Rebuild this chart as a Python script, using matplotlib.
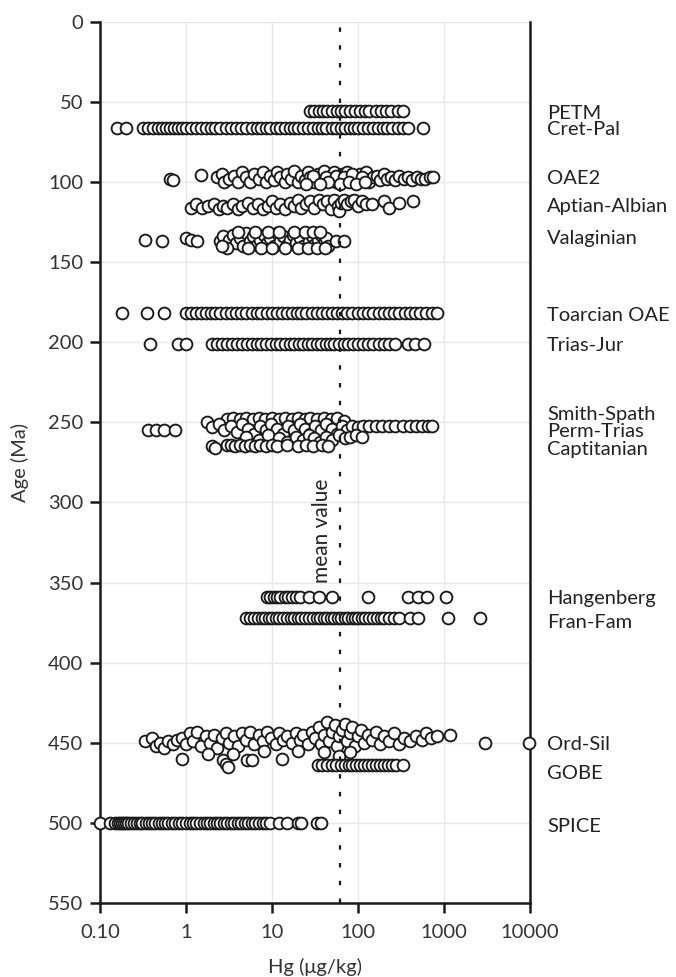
import matplotlib
matplotlib.use("Agg")
import matplotlib.pyplot as plt
import matplotlib.transforms as mtransforms

plt.rcParams['font.family'] = ['Lato', 'DejaVu Sans']

# ======= DATA (Hg in ug/kg, age in Ma) ===========
petm_age = 55.5
petm_hg = [28, 31, 35, 39, 44, 50, 57, 63, 70, 80, 92, 105, 120, 135, 160, 185, 210, 240, 290, 330]

cretpal_age = 66
cretpal_hg = [0.158, 0.2, 0.32, 0.36, 0.41, 0.47, 0.52, 0.58, 0.65, 0.72, 0.8, 0.9, 1.0, 1.15, 1.3,
              1.5, 1.7, 1.95, 2.2, 2.5, 2.9, 3.3, 3.8, 4.4, 5.0, 5.8, 6.6, 7.5, 8.5, 9.6, 11, 12.5,
              14, 16, 18, 20, 23, 26, 30, 34, 38, 43, 50, 56, 63, 70, 80, 90, 100, 115, 130, 150,
              170, 195, 220, 250, 290, 330, 380, 570]

oae2_hg = [0.65, 0.7, 1.5, 2.3, 2.6, 2.8, 3.2, 3.6, 4.0, 4.5, 5.0, 5.5, 6.2, 7.0, 7.8, 8.5, 9.5,
           10.5, 11.5, 12.5, 14, 15, 16.5, 18, 20, 22, 24, 26, 28, 31, 34, 37, 40, 44, 48, 52, 56,
           60, 65, 70, 75, 82, 90, 98, 105, 115, 125, 135, 150, 165, 180, 200, 220, 240, 270, 300,
           340, 380, 430, 480, 540, 600, 680, 740, 30, 42, 55, 68, 85, 110, 45, 62, 78, 95, 120,
           25, 36]
oae2_age = [98, 99, 95.5, 97, 95, 100, 98, 96, 100, 94, 97, 100, 95, 98, 94, 100, 96,
            99, 94, 97, 100, 95, 98, 93, 100, 96, 99, 94, 97, 100, 95, 98, 93, 99, 96, 94, 100,
            97, 95, 99, 94, 98, 96, 100, 95, 98, 94, 100, 97, 96, 99, 95, 98, 97, 99, 96,
            98, 97, 99, 97, 98, 98, 97, 97, 96, 97, 96, 97, 95, 97, 100, 101, 100, 101, 100,
            101, 101]

aptalb_hg = [1.15, 1.3, 1.55, 1.8, 2.1, 2.4, 2.7, 3.0, 3.5, 4.0, 4.5, 5.2, 6.0, 6.8, 7.8, 9.0,
             10, 11, 12.5, 14, 16, 18, 20, 22, 25, 28, 31, 35, 39, 44, 48, 53, 58, 60, 63, 68,
             75, 82, 90, 100, 110, 125, 145, 200, 230, 300, 440]
aptalb_age = [116, 114, 116, 115, 114, 117, 115, 116, 114, 117, 115, 113, 116, 114, 117, 115,
              112, 116, 114, 117, 113, 115, 111, 116, 114, 112, 116, 111, 114, 112, 117, 111, 115,
              118, 113, 111, 114, 112, 111, 115, 112, 114, 114, 112, 116, 113, 112]

valang_hg = [0.33, 0.53, 1.0, 1.15, 1.35, 2.5, 2.7, 2.9, 3.2, 3.5, 3.8, 4.2, 4.6, 5.0, 5.5, 6.0,
             6.6, 7.2, 8.0, 8.8, 9.6, 10.5, 11.5, 12.5, 13.5, 15, 16, 17.5, 19, 21, 23, 25, 27,
             29, 31, 34, 37, 40, 43, 45, 3.0, 5.2, 7.5, 10, 14, 20, 26, 33, 41, 2.6, 4.0, 6.3,
             9.0, 12, 18, 24, 30, 36, 55, 68]
valang_age = [136, 137, 135, 136, 137, 137, 134, 139, 136, 133, 138, 135, 140, 132, 137, 134,
              139, 136, 133, 138, 135, 140, 132, 137, 134, 139, 136, 133, 138, 135, 140, 132, 137,
              134, 139, 136, 133, 138, 135, 140, 141, 141, 141, 141, 141, 141, 141, 141, 141, 140,
              131, 131, 131, 131, 131, 131, 131, 131, 137, 137]

toarc_age = 182
toarc_hg = [0.18, 0.35, 0.55, 1.0, 1.15, 1.3, 1.5, 1.7, 1.95, 2.2, 2.5, 2.9, 3.3, 3.8, 4.4, 5.0,
            5.8, 6.6, 7.5, 8.7, 10, 11.5, 13, 15, 17, 19.5, 22, 25, 29, 33, 38, 44, 50, 57, 65,
            75, 86, 100, 115, 130, 150, 175, 200, 230, 260, 300, 350, 400, 460, 530, 620, 720, 820]

triasjur_age = 201
triasjur_hg = [0.38, 0.8, 1.0, 2.0, 2.3, 2.6, 3.0, 3.4, 3.9, 4.5, 5.1, 5.8, 6.6, 7.5, 8.6, 9.8,
               11, 12.5, 14, 16, 18, 20.5, 23, 26, 29, 33, 37, 42, 47, 53, 60, 68, 77, 87, 100,
               115, 130, 150, 175, 200, 230, 270, 380, 460, 580]

# Smith-Spath / Perm-Trias / Captitanian cluster
perm_hg = [0.36, 0.45, 0.55, 0.75,
           3.0, 3.5, 4.2, 5.0, 6.0, 7.0, 8.3, 10, 12, 14, 17, 20, 24, 28, 33, 40, 48, 57, 68,
           1.75, 2.0, 2.4, 2.8, 3.3, 3.9, 4.5, 5.3, 6.2, 7.2, 8.4, 9.8, 11.5, 13.5, 15.5, 18, 21,
           24, 28, 32, 37, 43, 50, 57, 65, 75, 85, 100, 115, 135, 160, 190, 230, 270, 330, 400,
           470, 560, 650, 720,
           5, 7, 9, 12, 15, 19, 23, 27, 31, 36, 42, 50, 60, 70, 80, 95, 110,
           2.0, 2.2, 3.0, 3.3, 3.7, 4.2, 4.8, 5.5, 6.3, 7.3, 8.5, 10, 11.5, 15, 20, 25, 30, 38, 45]
perm_age = [255, 255, 255, 255,
            248, 247, 248, 247, 248, 247, 248, 247, 248, 247, 248, 247, 248, 247, 248, 247, 248,
            247, 249,
            250, 253, 251, 255, 252, 256, 251, 254, 257, 252, 255, 251, 254, 257, 252, 255, 251,
            254, 257, 252, 255, 251, 254, 257, 252, 255, 252, 253, 252, 252, 252, 252, 252, 252,
            252, 252, 252, 252, 252, 252,
            259, 261, 258, 260, 262, 259, 261, 258, 260, 262, 259, 261, 258, 260, 259, 258, 259,
            265, 266, 264, 264, 265, 264, 265, 264, 265, 264, 265, 264, 265, 264, 265, 264, 265,
            264, 265]

hangen_age = 359
hangen_hg = [8.7, 9.5, 10.5, 11.5, 12.5, 14, 15.5, 17, 19, 21, 27, 35, 50, 130, 380, 500, 640, 1050]

franfam_age = 372
franfam_hg = [5.0, 5.6, 6.2, 6.9, 7.6, 8.3, 9.2, 10, 11, 12, 13.5, 15, 16.5, 18, 20, 22, 24.5, 27,
              30, 33, 36, 40, 44, 48, 53, 58, 64, 70, 77, 85, 93, 100, 110, 120, 135, 150, 165, 185,
              200, 230, 260, 300, 400, 500, 1100, 2630]

ordsil_hg = [0.33, 0.4, 0.45, 0.5, 0.55, 0.62, 0.7, 0.78, 0.9, 1.0, 1.1, 1.2, 1.35, 1.5, 1.7, 1.9,
             2.1, 2.3, 2.6, 2.9, 3.2, 3.6, 4.0, 4.5, 5.0, 5.6, 6.2, 7.0, 7.8, 8.7, 9.7, 11, 12,
             13.5, 15, 17, 19, 21, 23, 26, 29, 32, 35, 37, 40, 44, 46, 50, 54, 57, 60, 65, 70, 75,
             80, 86, 92, 100, 108, 118, 130, 145, 160, 180, 200, 230, 260, 300, 340, 400, 470, 550,
             620, 700, 820, 1170, 3000, 9800,
             0.9, 2.7, 2.9, 3.1, 5.1, 5.9, 13, 1.8, 3.5, 8, 20, 40, 60, 80]
ordsil_age = [449, 447, 452, 450, 453, 449, 451, 448, 447, 451, 444, 449, 443, 452, 446, 450,
              445, 453, 447, 444, 450, 446, 452, 444, 448, 443, 451, 445, 449, 443, 447, 451, 444,
              448, 446, 450, 444, 448, 445, 451, 443, 447, 440, 451, 445, 437, 449, 443, 439, 452,
              446, 442, 438, 449, 444, 440, 452, 446, 442, 450, 445, 448, 443, 451, 446, 449, 444,
              451, 447, 449, 446, 448, 444, 447, 446, 445, 450, 450,
              460, 461, 463, 465, 461, 461, 460, 457, 457, 455, 455, 456, 458, 456]

gobe_age = 464
gobe_hg = [34, 38, 44, 50, 56, 63, 70, 78, 86, 95, 105, 117, 130, 145, 160, 180, 200, 225, 250,
           280, 330]

spice_age = 500
spice_hg = [0.1, 0.13, 0.15, 0.16, 0.17, 0.18, 0.19, 0.2, 0.21, 0.23, 0.25, 0.27, 0.29, 0.31,
            0.34, 0.37, 0.4, 0.44, 0.48, 0.52, 0.57, 0.62, 0.68, 0.75, 0.82, 0.9, 1.0, 1.1, 1.2,
            1.3, 1.45, 1.6, 1.75, 1.9, 2.1, 2.3, 2.5, 2.75, 3.0, 3.3, 3.6, 4.0, 4.4, 4.8, 5.3, 5.8,
            6.4, 7.0, 7.8, 8.6, 9.5, 12, 15, 20, 22, 33, 37]

mean_hg = 62

event_names = ["PETM", "Cret-Pal", "OAE2", "Aptian-Albian", "Valaginian", "Toarcian OAE",
               "Trias-Jur", "Smith-Spath", "Perm-Trias", "Captitanian", "Hangenberg", "Fran-Fam",
               "Ord-Sil", "GOBE", "SPICE"]
event_label_ages = [57, 67.5, 98, 115, 135, 183, 202, 245, 256, 267, 360, 375, 451, 469, 502]

x_ticks = [0.1, 1, 10, 100, 1000, 10000]
x_ticklabels = ["0.10", "1", "10", "100", "1000", "10000"]
y_ticks = list(range(0, 551, 50))

# ======= PLOT ===========
fig = plt.figure(figsize=(6.76, 9.77), dpi=100)
ax = fig.add_axes([0.148, 0.0757, 0.636, 0.902])

rows = [
    (petm_hg, [petm_age] * len(petm_hg)),
    (cretpal_hg, [cretpal_age] * len(cretpal_hg)),
    (oae2_hg, oae2_age),
    (aptalb_hg, aptalb_age),
    (valang_hg, valang_age),
    (toarc_hg, [toarc_age] * len(toarc_hg)),
    (triasjur_hg, [triasjur_age] * len(triasjur_hg)),
    (perm_hg, perm_age),
    (hangen_hg, [hangen_age] * len(hangen_hg)),
    (franfam_hg, [franfam_age] * len(franfam_hg)),
    (ordsil_hg, ordsil_age),
    (gobe_hg, [gobe_age] * len(gobe_hg)),
    (spice_hg, [spice_age] * len(spice_hg)),
]
for xs, ys in rows:
    ax.scatter(xs, ys, s=72, facecolor='white', edgecolor='#1a1a1a', linewidth=1.35,
               zorder=3, clip_on=False)

ax.axvline(mean_hg, color='#1a1a1a', linestyle=(0, (2, 6)), linewidth=1.6, zorder=4)
ax.text(38, 318, "mean value", rotation=90, ha='center', va='center', fontsize=15,
        color='#222222', zorder=5)

ax.set_xscale('log')
ax.set_xlim(0.1, 10000)
ax.set_ylim(550, 0)
ax.set_xticks(x_ticks)
ax.set_xticklabels(x_ticklabels)
ax.minorticks_off()
ax.set_yticks(y_ticks)

ax.grid(True, color='#e8e8e8', linewidth=1.0, zorder=0)
ax.set_axisbelow(True)

for side in ['left', 'bottom', 'right']:
    ax.spines[side].set_linewidth(1.8)
    ax.spines[side].set_color('#1a1a1a')
ax.spines['top'].set_visible(False)
ax.tick_params(axis='both', direction='out', length=7, width=1.8, colors='#1a1a1a',
               labelsize=14.5, labelcolor='#333333')
ax.tick_params(axis='x', pad=8)
ax.tick_params(axis='y', right=False, pad=5)

ax.set_xlabel("Hg (\u03bcg/kg)", fontsize=14.5, color='#333333', labelpad=12)
ax.set_ylabel("Age (Ma)", fontsize=14.5, color='#333333', labelpad=14)

trans = mtransforms.blended_transform_factory(ax.transAxes, ax.transData)
for name, age in zip(event_names, event_label_ages):
    ax.text(1.04, age, name, transform=trans, ha='left', va='center', fontsize=14.5,
            color='#222222')

fig.savefig("out.png", dpi=100)
